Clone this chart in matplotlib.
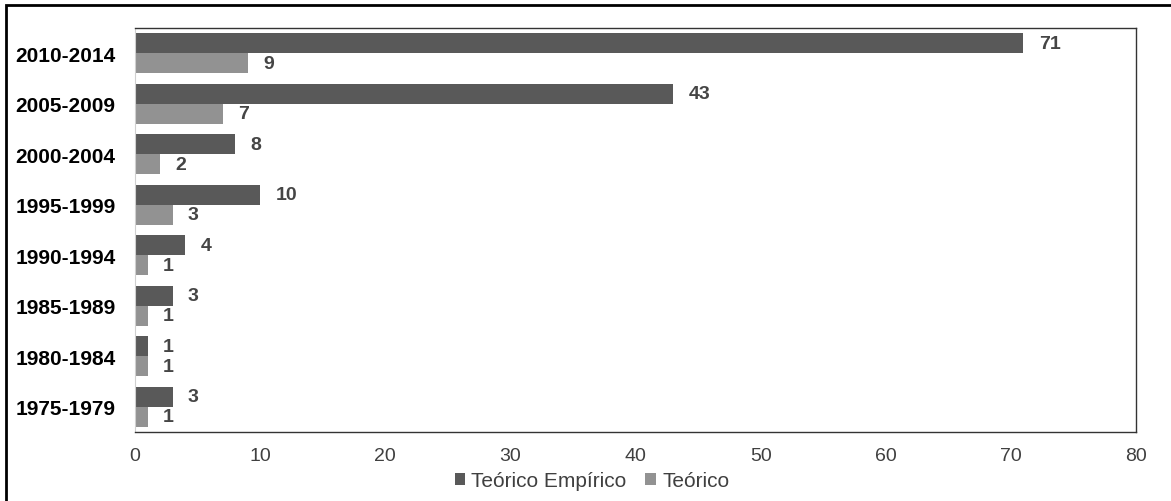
import numpy as np
import matplotlib
matplotlib.use("Agg")
import matplotlib.pyplot as plt
from matplotlib.patches import Rectangle

plt.rcParams['font.family'] = ['Liberation Sans', 'DejaVu Sans']

periods = ["1975-1979", "1980-1984", "1985-1989", "1990-1994",
           "1995-1999", "2000-2004", "2005-2009", "2010-2014"]
teorico_empirico = [3, 1, 3, 4, 10, 8, 43, 71]
teorico = [1, 1, 1, 1, 3, 2, 7, 9]

dark = "#595959"
light = "#929292"

fig = plt.figure(figsize=(11.71, 5.02), dpi=100)
ax = fig.add_axes([0.1153, 0.1375, 0.9701 - 0.1153, 0.9422 - 0.1375])

y = np.arange(len(periods))
h = 0.4
b1 = ax.barh(y + h / 2, teorico_empirico, height=h, color=dark, label="Teórico Empírico")
b2 = ax.barh(y - h / 2, teorico, height=h, color=light, label="Teórico")

for bars, vals in ((b1, teorico_empirico), (b2, teorico)):
    for bar, v in zip(bars, vals):
        ax.annotate(str(v), (bar.get_width(), bar.get_y() + bar.get_height() / 2),
                    xytext=(11, 0), textcoords="offset points", va="center", ha="left",
                    fontsize=14, fontweight="bold", color="#454545")

ax.set_xlim(0, 80)
ax.set_ylim(-0.5, len(periods) - 0.5)
ax.set_xticks(range(0, 81, 10))
ax.set_yticks(y)
ax.set_yticklabels(periods, fontsize=15, fontweight="bold", color="black")
ax.tick_params(axis="x", length=0, labelsize=14, labelcolor="#404040", pad=11)
ax.tick_params(axis="y", length=0, pad=14)

for s in ("top", "right", "bottom"):
    ax.spines[s].set_color("#333333")
    ax.spines[s].set_linewidth(1)
ax.spines["left"].set_color("#d0d0d0")

fig.legend(handles=[b1, b2], loc="center", bbox_to_anchor=(0.5055, 0.040), ncol=2,
           frameon=False, fontsize=15, handlelength=0.5, handleheight=0.5,
           handletextpad=0.3, columnspacing=0.9, labelcolor="#404040")

# outer frame around the whole chart
fig.patches.append(Rectangle((6 / 1171, -0.1), 1.2, 1 - 6 / 502 + 0.1,
                             transform=fig.transFigure, fill=False,
                             edgecolor="black", linewidth=2))

fig.savefig("out.png", dpi=100)
